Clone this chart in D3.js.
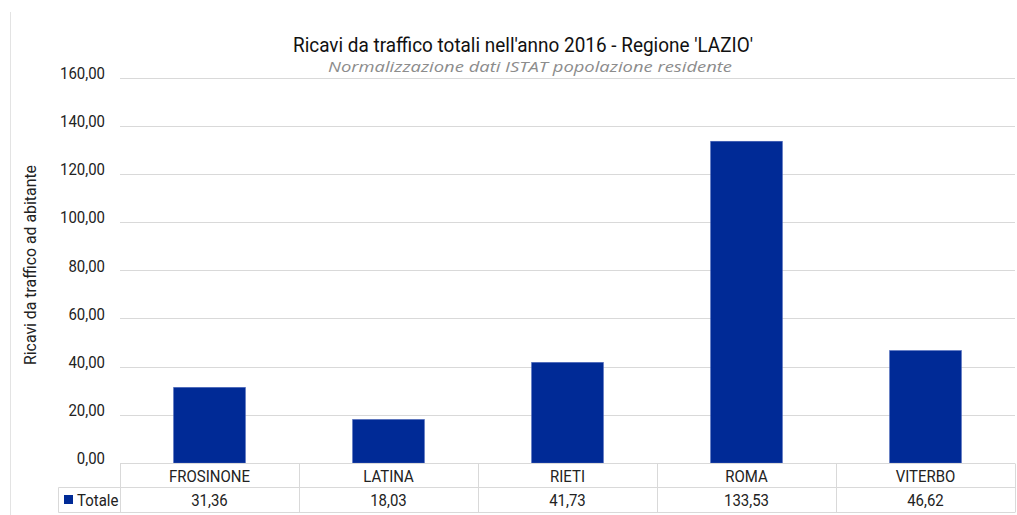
<!DOCTYPE html>
<html><head><meta charset="utf-8">
<script src="https://cdn.jsdelivr.net/npm/d3@7"></script>
<style>
body{margin:0;background:#fff;}
text{font-family:Roboto,"Liberation Sans",sans-serif;}
</style></head>
<body><svg id="c" width="1017" height="515"></svg>
<script>
const categories = ["FROSINONE","LATINA","RIETI","ROMA","VITERBO"];
const values = [31.36, 18.03, 41.73, 133.53, 46.62];
const yTicks = [0,20,40,60,80,100,120,140,160];
const seriesName = "Totale";
const title = "Ricavi da traffico totali nell'anno 2016 - Regione 'LAZIO'";
const subtitle = "Normalizzazione dati ISTAT popolazione residente";
const yLabel = "Ricavi da traffico ad abitante";

(function(){
const svg = d3.select("#c");
const fmt = v => d3.format(".2f")(v).replace(".", ",");
const pl = 120, pr = 1015, pt = 77.5, pb = 463;
const x = d3.scaleBand().domain(categories).range([pl, pr]).padding(0);
const y = d3.scaleLinear().domain([0,160]).range([pb, pt]);
const grid = "#d9d9d9";
const FS = 17, K = 0.88;
function condense(sel){
  sel.each(function(){
    const w = this.getComputedTextLength();
    d3.select(this).attr("textLength", w*K).attr("lengthAdjust","spacingAndGlyphs");
  });
}

svg.append("line").attr("x1",10.5).attr("x2",10.5).attr("y1",12).attr("y2",515).attr("stroke","#e3e3e3");

svg.append("g").selectAll("line").data(yTicks.filter(d=>d>0)).join("line")
  .attr("x1",pl).attr("x2",pr).attr("y1",d=>Math.round(y(d))+0.5).attr("y2",d=>Math.round(y(d))+0.5)
  .attr("stroke",grid).attr("stroke-width",1);

const yAxis = d3.axisLeft(y).tickValues(yTicks).tickFormat(fmt).tickSize(0).tickPadding(0);
const gy = svg.append("g").attr("transform",`translate(${pl-15},0)`).call(yAxis);
gy.select(".domain").remove();
gy.attr("font-family",null).attr("font-size",null);
gy.selectAll("text").attr("font-size",FS).attr("fill","#222").attr("dy","0.05em").call(condense);

const bw = x.bandwidth()*0.4;
svg.append("g").selectAll("rect").data(values).join("rect")
  .attr("x",(d,i)=>x(categories[i])+x.bandwidth()/2-bw/2)
  .attr("width",bw)
  .attr("y",d=>y(d)).attr("height",d=>y(0)-y(d))
  .attr("fill","#002a96").attr("stroke","#3d5bb5").attr("stroke-width",0.6);

const r1 = 463.5, r2 = 487.5, r3 = 512.5, legLeft = 58.5;
const t = svg.append("g").attr("stroke",grid).attr("stroke-width",1);
t.append("line").attr("x1",pl).attr("x2",pr).attr("y1",r1).attr("y2",r1);
t.append("line").attr("x1",legLeft).attr("x2",pr).attr("y1",r2).attr("y2",r2);
t.append("line").attr("x1",legLeft).attr("x2",pr).attr("y1",r3).attr("y2",r3);
t.append("line").attr("x1",legLeft).attr("x2",legLeft).attr("y1",r2).attr("y2",r3);
t.selectAll(".v").data(categories.concat(["__end"])).join("line")
  .attr("x1",(d,i)=>Math.round(pl+i*x.step())+0.5).attr("x2",(d,i)=>Math.round(pl+i*x.step())+0.5)
  .attr("y1",r1).attr("y2",r3);

svg.append("g").selectAll("text").data(categories).join("text")
  .attr("x",d=>x(d)+x.bandwidth()/2).attr("y",(r1+r2)/2+6)
  .attr("text-anchor","middle").attr("font-size",FS).attr("fill","#222").text(d=>d).call(condense);
svg.append("g").selectAll("text").data(values).join("text")
  .attr("x",(d,i)=>x(categories[i])+x.bandwidth()/2).attr("y",(r2+r3)/2+6)
  .attr("text-anchor","middle").attr("font-size",FS).attr("fill","#222").text(d=>fmt(d)).call(condense);

svg.append("rect").attr("x",64).attr("y",495).attr("width",9).attr("height",9).attr("fill","#002a96");
svg.append("text").attr("x",77).attr("y",506).attr("font-size",FS).attr("fill","#222").text(seriesName).call(condense);

svg.append("text").attr("x",523).attr("y",51.5).attr("text-anchor","middle").attr("font-size",20)
  .attr("fill","#111").attr("textLength",460).attr("lengthAdjust","spacingAndGlyphs").text(title);
svg.append("text").attr("x",530).attr("y",72).attr("text-anchor","middle").attr("font-size",15)
  .attr("font-style","italic").attr("fill","#8c8c8c").style("font-family","'Open Sans',sans-serif")
  .attr("textLength",404).attr("lengthAdjust","spacingAndGlyphs").text(subtitle);

svg.append("text").attr("transform","translate(36,265) rotate(-90)").attr("text-anchor","middle")
  .attr("font-size",17).attr("fill","#222").attr("textLength",200).attr("lengthAdjust","spacingAndGlyphs").text(yLabel);
})();
</script></body></html>
